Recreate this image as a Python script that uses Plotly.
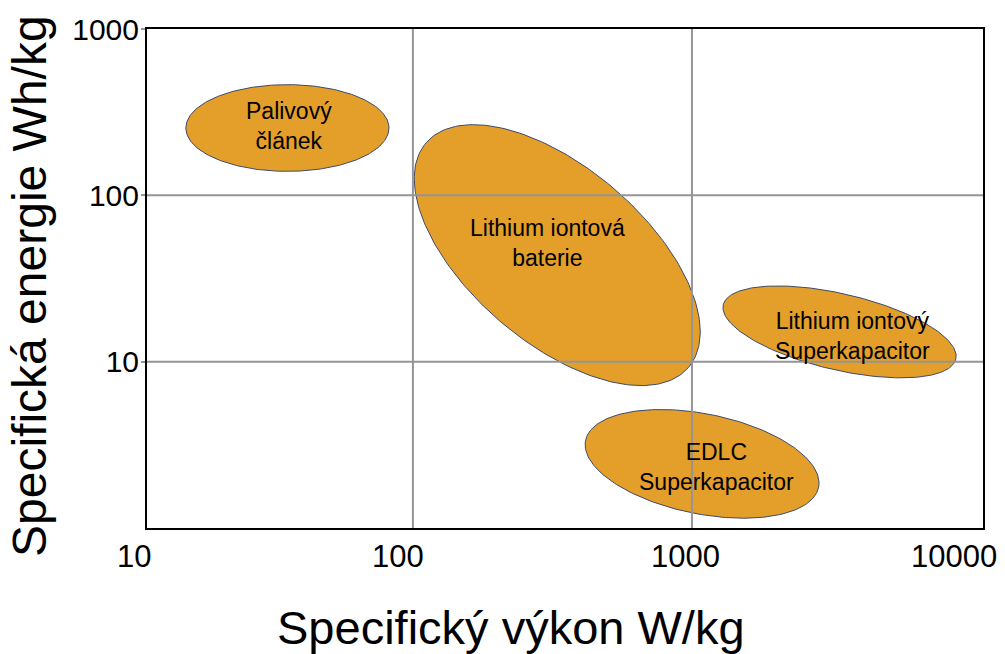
import numpy as np
import plotly.graph_objects as go

# ---- data ----
names = ["Palivový<br>článek", "Lithium iontová<br>baterie",
         "Lithium iontový<br>Superkapacitor", "EDLC<br>Superkapacitor"]
center_power = [35.5, 329, 3380, 1087]        # W/kg
center_energy = [254, 43.7, 15.1, 2.43]        # Wh/kg
semi_major_dec = [0.364, 0.620, 0.428, 0.426]  # decades (x-decade units)
semi_minor_dec = [0.156, 0.314, 0.137, 0.180]
tilt_deg = [0.0, 40.75, 13.2, 11.4]
label_power = [36, 303, 3750, 1220]
label_energy = [262, 51.6, 14.3, 2.32]

x_tick_vals = [10, 100, 1000, 10000]
x_tick_text = ["10", "100", "1000", "10000"]
x_tick_shift = [0, -15, -6, -17]
y_tick_vals = [10, 100, 1000]
y_tick_text = ["10", "100", "1000"]

# ---- layout geometry ----
W, H = 1005, 654
ML, MR, MT, MB = 147, 22, 27, 126
XR = [1.047, 4.043]
YR = [0.0, 3.0]
pxx = (W - ML - MR) / (XR[1] - XR[0])
pxy = (H - MT - MB) / (YR[1] - YR[0])

FILL = "#E49E2A"
EDGE = "#3b4a6b"
FONT = "Liberation Sans, Arial, Helvetica, sans-serif"

fig = go.Figure()
t = np.linspace(0, 2 * np.pi, 241)
for cx, cy, a, b, th in zip(center_power, center_energy, semi_major_dec,
                             semi_minor_dec, tilt_deg):
    ap, bp = a * pxx, b * pxx
    r = np.radians(th)
    du = ap * np.cos(t) * np.cos(r) - bp * np.sin(t) * np.sin(r)
    dv = ap * np.cos(t) * np.sin(r) + bp * np.sin(t) * np.cos(r)
    lx = np.log10(cx) + du / pxx
    ly = np.log10(cy) - dv / pxy
    fig.add_trace(go.Scatter(x=10 ** lx, y=10 ** ly, mode="lines",
                             fill="toself", fillcolor=FILL,
                             line=dict(color=EDGE, width=1),
                             hoverinfo="skip", showlegend=False))

# gridlines above the ellipses
GRID = "#959595"
for v in x_tick_vals[1:3]:
    fig.add_shape(type="line", xref="x", yref="paper", x0=v, x1=v, y0=0, y1=1,
                  line=dict(color=GRID, width=2), layer="above")
for v in y_tick_vals[:2]:
    fig.add_shape(type="line", xref="paper", yref="y", x0=0, x1=1, y0=v, y1=v,
                  line=dict(color=GRID, width=2), layer="above")

for txt, lx_, ly_ in zip(names, label_power, label_energy):
    fig.add_annotation(x=np.log10(lx_), y=np.log10(ly_), text=txt,
                       showarrow=False, xanchor="center", yanchor="middle",
                       font=dict(size=23, color="black", family=FONT))

for v, txt, sh in zip(x_tick_vals, x_tick_text, x_tick_shift):
    px_ = (np.log10(v) - XR[0]) / (XR[1] - XR[0])
    fig.add_annotation(x=px_, xref="paper", y=-0.058, yref="paper",
                       text=txt, showarrow=False, xshift=sh,
                       xanchor="center", yanchor="middle",
                       font=dict(size=31, color="black", family=FONT))

fig.add_annotation(x=(511 - ML) / (W - ML - MR), xref="paper", y=-0.2, yref="paper",
                   text="Specifický výkon W/kg", showarrow=False,
                   xanchor="center", yanchor="middle",
                   font=dict(size=47, color="black", family=FONT))
fig.add_annotation(x=(30 - ML) / (W - ML - MR), xref="paper", y=0.485, yref="paper",
                   text="Specifická energie Wh/kg", showarrow=False, textangle=-90,
                   xanchor="center", yanchor="middle",
                   font=dict(size=48, color="black", family=FONT))

fig.update_layout(
    width=W, height=H, autosize=False,
    margin=dict(l=ML, r=MR, t=MT, b=MB),
    paper_bgcolor="white", plot_bgcolor="white",
    showlegend=False,
    font=dict(family=FONT, color="black"),
    xaxis=dict(type="log", range=XR, showgrid=False, zeroline=False,
               showticklabels=False, ticks="", showline=True, linecolor="black",
               linewidth=2, mirror=True),
    yaxis=dict(type="log", range=YR, tickvals=y_tick_vals, ticktext=y_tick_text,
               showgrid=False, zeroline=False, ticks="outside", ticklen=4,
               tickcolor=GRID, tickwidth=2, ticklabelstandoff=-4,
               tickfont=dict(size=30, color="black", family=FONT),
               showline=True, linecolor="black", linewidth=2, mirror=True),
)

fig.write_html("out.html", config={"displayModeBar": False},
               post_script="document.body.style.margin='0';document.body.style.overflow='hidden';")
